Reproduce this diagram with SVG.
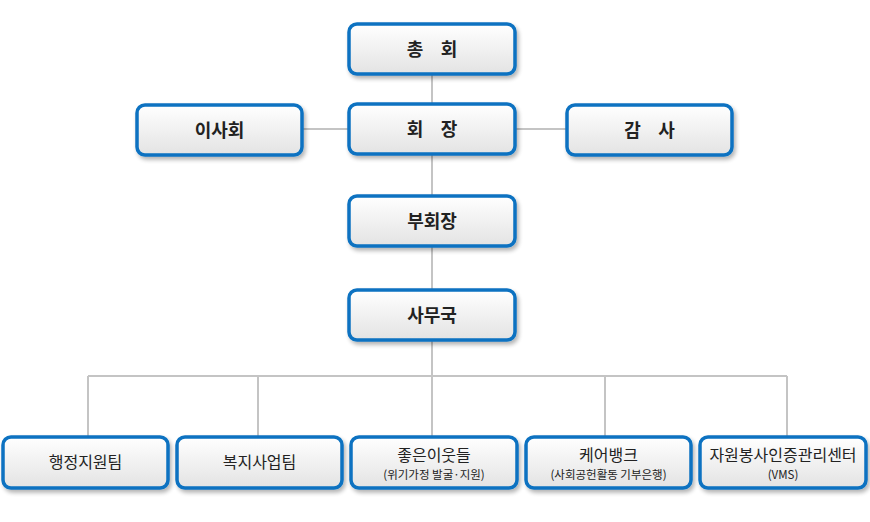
<svg xmlns="http://www.w3.org/2000/svg" width="870" height="522" viewBox="0 0 870 522">
<defs>
<linearGradient id="g" x1="0" y1="0" x2="0" y2="1">
<stop offset="0" stop-color="#ffffff"/>
<stop offset="1" stop-color="#e3e3e3"/>
</linearGradient>
<filter id="sh" x="-10%" y="-20%" width="125%" height="150%">
<feGaussianBlur in="SourceAlpha" stdDeviation="2"/>
<feOffset dx="2" dy="3" result="b"/>
<feComponentTransfer><feFuncA type="linear" slope="0.3"/></feComponentTransfer>
<feMerge><feMergeNode/><feMergeNode in="SourceGraphic"/></feMerge>
</filter>
</defs>
<style>
.box{fill:url(#g);stroke:#0b72c1;stroke-width:3.5;filter:url(#sh)}
.t{font-family:"Noto Sans CJK KR","Noto Sans",sans-serif;fill:#222;text-anchor:middle}
.b{font-size:18px;font-weight:bold}
.n{font-size:16px}
.s{font-size:11.5px}
.ln{stroke:#c4c4c4;stroke-width:2;fill:none}
</style>
<g id="connectors">
<path class="ln" d="M432 74V103 M302 129H349 M515 129H567 M432 154V196 M432 246V290 M432 340V376 M88 376H787 M88 376V437 M258 376V437 M432 376V437 M605 376V437 M787 376V437"/>
</g>
<g id="n-chonghoe"><rect class="box" x="349" y="24" width="166" height="50" rx="8"/><text class="t b" x="415" y="56">총</text><text class="t b" x="449" y="56">회</text></g>
<g id="n-isahoe"><rect class="box" x="137" y="105" width="165" height="50" rx="8"/><text class="t b" x="219.5" y="137">이사회</text></g>
<g id="n-hoejang"><rect class="box" x="349" y="104" width="166" height="50" rx="8"/><text class="t b" x="415" y="136">회</text><text class="t b" x="449" y="136">장</text></g>
<g id="n-gamsa"><rect class="box" x="567" y="105" width="165" height="50" rx="8"/><text class="t b" x="632.5" y="137">감</text><text class="t b" x="666.5" y="137">사</text></g>
<g id="n-buhoejang"><rect class="box" x="349" y="196" width="166" height="50" rx="8"/><text class="t b" x="432" y="228">부회장</text></g>
<g id="n-samuguk"><rect class="box" x="349" y="290" width="166" height="50" rx="8"/><text class="t b" x="432" y="322">사무국</text></g>
<g id="n-haengjeong"><rect class="box" x="3" y="437" width="165" height="51" rx="8"/><text class="t n" x="85.5" y="468">행정지원팀</text></g>
<g id="n-bokji"><rect class="box" x="177" y="437" width="165" height="51" rx="8"/><text class="t n" x="259.5" y="468">복지사업팀</text></g>
<g id="n-joeun"><rect class="box" x="351" y="437" width="166" height="51" rx="8"/><text class="t n" x="434" y="461">좋은이웃들</text><text class="t s" x="434" y="479">(위기가정 발굴·지원)</text></g>
<g id="n-carebank"><rect class="box" x="526" y="437" width="165" height="51" rx="8"/><text class="t n" x="608.5" y="461">케어뱅크</text><text class="t s" x="608.5" y="479">(사회공헌활동 기부은행)</text></g>
<g id="n-vms"><rect class="box" x="700" y="437" width="166" height="51" rx="8"/><text class="t n" x="783" y="461">자원봉사인증관리센터</text><text class="t s" x="783" y="479">(VMS)</text></g>
</svg>
